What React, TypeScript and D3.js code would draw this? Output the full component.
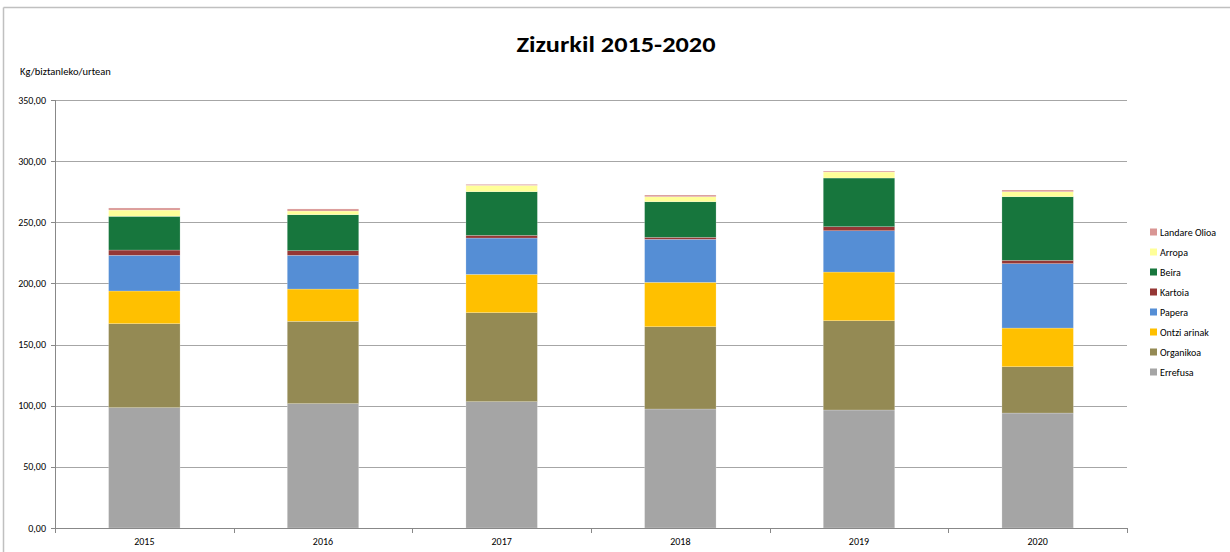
import * as d3 from 'd3';
import React from 'react';

// Years on the x axis
const years = ['2015', '2016', '2017', '2018', '2019', '2020'];

// Series, bottom to top (kg per inhabitant per year)
const errefusa = [98.4, 101.7, 103.3, 97.3, 96.5, 94.0];
const organikoa = [68.7, 67.3, 72.8, 67.3, 73.0, 37.9];
const ontziArinak = [26.7, 26.4, 31.3, 36.3, 39.8, 31.6];
const papera = [29.2, 27.6, 29.7, 35.2, 33.8, 52.7];
const kartoia = [4.3, 3.8, 2.2, 1.6, 3.3, 2.7];
const beira = [27.6, 29.4, 35.7, 29.1, 39.8, 52.0];
const arropa = [5.1, 3.0, 5.2, 4.1, 4.9, 4.1];
const landareOlioa = [1.7, 1.7, 0.8, 1.4, 0.8, 1.4];

const seriesNames = ['Errefusa', 'Organikoa', 'Ontzi arinak', 'Papera', 'Kartoia', 'Beira', 'Arropa', 'Landare Olioa'];
const seriesValues = [errefusa, organikoa, ontziArinak, papera, kartoia, beira, arropa, landareOlioa];
const seriesColors = ['#A5A5A5', '#948A54', '#FFC000', '#558ED5', '#953735', '#17763D', '#FFFF99', '#D99694'];

const yTicks = [0, 50, 100, 150, 200, 250, 300, 350];

const W = 1230;
const H = 552;
const FONT = 'Carlito, Calibri, Lato, "Open Sans", sans-serif';

export default function App() {
  const margin = { top: 100, left: 55, right: 1127, bottom: 528 };

  // one row per year, keyed by series name
  const rows = years.map((y, i) => {
    const row: Record<string, number | string> = { year: y };
    seriesNames.forEach((s, k) => (row[s] = seriesValues[k][i]));
    return row;
  });
  const stacked = d3.stack<any>().keys(seriesNames)(rows);

  const x = d3.scaleBand().domain(years).range([margin.left, margin.right]).paddingInner(0.6).paddingOuter(0.3);
  const xOuter = d3.scaleBand().domain(years).range([margin.left, margin.right]);
  const y = d3.scaleLinear().domain([0, 350]).range([margin.bottom, margin.top]);

  const fmt = (v: number) => v.toFixed(2).replace('.', ',');

  const legendNames = [...seriesNames].reverse();
  const legendColors = [...seriesColors].reverse();

  return (
    <div style={{ position: 'fixed', left: 0, top: 0 }}>
      <svg width={W} height={H} style={{ display: 'block', fontFamily: FONT }}>
        <rect x={0} y={0} width={W} height={H} fill="#fff" />
        {/* chart border (top and left visible) */}
        <line x1={3.5} y1={7.5} x2={W} y2={7.5} stroke="#c0c0c0" strokeWidth={1.5} />
        <line x1={3.5} y1={7.5} x2={3.5} y2={H} stroke="#c0c0c0" strokeWidth={1.5} />

        <text x={616} y={52} textAnchor="middle" fontSize={23} fontWeight="bold" fill="#000" textLength={199} lengthAdjust="spacingAndGlyphs">
          Zizurkil 2015-2020
        </text>
        <text x={20} y={75} fontSize={10.5} fill="#000">
          Kg/biztanleko/urtean
        </text>

        {/* gridlines + y labels */}
        {yTicks.map((t) => (
          <g key={t}>
            {t > 0 && (
              <line x1={margin.left} x2={margin.right} y1={Math.round(y(t)) + 0.5} y2={Math.round(y(t)) + 0.5} stroke="#a6a6a6" strokeWidth={1} />
            )}
            <line x1={margin.left - 4} x2={margin.left} y1={Math.round(y(t)) + 0.5} y2={Math.round(y(t)) + 0.5} stroke="#888" />
            <text x={46} y={y(t) + 3.5} textAnchor="end" fontSize={10} fill="#000">
              {fmt(t)}
            </text>
          </g>
        ))}

        {/* bars */}
        {stacked.map((layer, k) => (
          <g key={layer.key} fill={seriesColors[k]}>
            {layer.map((d, i) => (
              <rect
                key={i}
                x={x(years[i])}
                width={x.bandwidth()}
                y={y(d[1])}
                height={y(d[0]) - y(d[1])}
                stroke="#ffffff"
                strokeOpacity={0.35}
                strokeWidth={0.6}
              />
            ))}
          </g>
        ))}

        {/* axes */}
        <line x1={margin.left + 0.5} x2={margin.left + 0.5} y1={margin.top} y2={margin.bottom + 0.5} stroke="#888" />
        <line x1={margin.left} x2={margin.right} y1={margin.bottom + 0.5} y2={margin.bottom + 0.5} stroke="#888" />
        {years.map((yr, i) => (
          <g key={yr}>
            <line
              x1={Math.round(xOuter(yr)! + xOuter.bandwidth()) + 0.5}
              x2={Math.round(xOuter(yr)! + xOuter.bandwidth()) + 0.5}
              y1={margin.bottom}
              y2={margin.bottom + 5}
              stroke="#888"
            />
            {i === 0 && (
              <line x1={margin.left + 0.5} x2={margin.left + 0.5} y1={margin.bottom} y2={margin.bottom + 5} stroke="#888" />
            )}
            <text x={xOuter(yr)! + xOuter.bandwidth() / 2} y={545} textAnchor="middle" fontSize={10} fill="#000">
              {yr}
            </text>
          </g>
        ))}

        {/* legend */}
        {legendNames.map((n, i) => (
          <g key={n} transform={`translate(1150, ${232 + i * 20})`}>
            <rect x={0} y={-3.5} width={7} height={7} fill={legendColors[i]} />
            <text x={10} y={3.5} fontSize={10} fill="#000">
              {n}
            </text>
          </g>
        ))}
      </svg>
    </div>
  );
}
